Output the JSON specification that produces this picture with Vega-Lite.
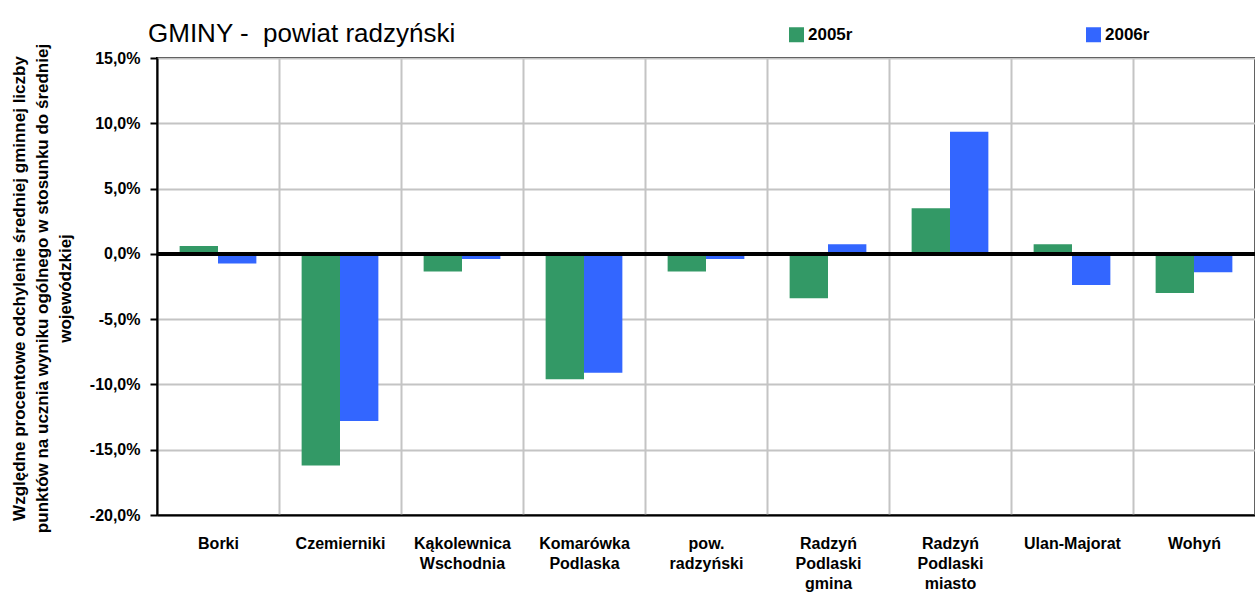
{
  "$schema": "https://vega.github.io/schema/vega-lite/v6.json",
  "width": 1098,
  "height": 457,
  "autosize": {"type": "none"},
  "padding": {"left": 157, "top": 58, "right": 0, "bottom": 84},
  "background": "white",
  "config": {
    "font": "Liberation Sans",
    "view": {"stroke": "black", "strokeWidth": 2}
  },
  "title": {
    "text": "GMINY -\u00a0 powiat radzyński",
    "anchor": "start",
    "frame": "group",
    "dx": -9,
    "dy": 58,
    "offset": 16,
    "baseline": "alphabetic",
    "fontSize": 26,
    "fontWeight": "normal",
    "font": "Liberation Sans",
    "color": "black"
  },
  "data": {
    "values": [
      {"gmina": "Borki", "rok": "2005r", "value": 0.006},
      {"gmina": "Borki", "rok": "2006r", "value": -0.0074},
      {"gmina": "Czemierniki", "rok": "2005r", "value": -0.162},
      {"gmina": "Czemierniki", "rok": "2006r", "value": -0.128},
      {"gmina": "Kąkolewnica|Wschodnia", "rok": "2005r", "value": -0.0135},
      {"gmina": "Kąkolewnica|Wschodnia", "rok": "2006r", "value": -0.004},
      {"gmina": "Komarówka|Podlaska", "rok": "2005r", "value": -0.096},
      {"gmina": "Komarówka|Podlaska", "rok": "2006r", "value": -0.091},
      {"gmina": "pow.|radzyński", "rok": "2005r", "value": -0.0135},
      {"gmina": "pow.|radzyński", "rok": "2006r", "value": -0.004},
      {"gmina": "Radzyń|Podlaski|gmina", "rok": "2005r", "value": -0.034},
      {"gmina": "Radzyń|Podlaski|gmina", "rok": "2006r", "value": 0.0074},
      {"gmina": "Radzyń|Podlaski|miasto", "rok": "2005r", "value": 0.035},
      {"gmina": "Radzyń|Podlaski|miasto", "rok": "2006r", "value": 0.0935},
      {"gmina": "Ulan-Majorat", "rok": "2005r", "value": 0.0074},
      {"gmina": "Ulan-Majorat", "rok": "2006r", "value": -0.0238},
      {"gmina": "Wohyń", "rok": "2005r", "value": -0.03},
      {"gmina": "Wohyń", "rok": "2006r", "value": -0.014}
    ]
  },
  "layer": [
    {
      "mark": {"type": "bar"},
      "encoding": {
        "x": {
          "field": "gmina",
          "type": "nominal",
          "sort": null,
          "scale": {"paddingInner": 0, "paddingOuter": 0},
          "axis": {
            "title": null,
            "grid": true,
            "tickBand": "extent",
            "gridColor": "#c4c4c4",
            "gridWidth": 2,
            "ticks": false,
            "domainColor": "black",
            "domainWidth": 2,
            "labelAngle": 0,
            "labelFontSize": 16,
            "labelFontWeight": "bold",
            "labelColor": "black",
            "labelPadding": 20,
            "labelBaseline": "top",
            "labelLineHeight": 20,
            "labelExpr": "split(datum.label, '|')"
          }
        },
        "xOffset": {
          "field": "rok",
          "type": "nominal",
          "scale": {"paddingInner": 0, "paddingOuter": 0.59}
        },
        "y": {
          "field": "value",
          "type": "quantitative",
          "scale": {"domain": [-0.2, 0.15], "nice": false, "zero": false},
          "axis": {
            "values": [-0.2, -0.15, -0.1, -0.05, 0, 0.05, 0.1, 0.15],
            "labelExpr": "replace(replace(format(datum.value, '.1%'), '.', ','), '\u2212', '-')",
            "grid": true,
            "gridColor": "#c4c4c4",
            "gridWidth": 2,
            "domainColor": "black",
            "domainWidth": 2,
            "tickColor": "black",
            "tickWidth": 2,
            "tickSize": 7,
            "labelPadding": 10,
            "labelFontSize": 16,
            "labelFontWeight": "bold",
            "labelColor": "black",
            "title": [
              "Względne procentowe odchylenie średniej gminnej liczby",
              "punktów na ucznia wyniku ogólnego w stosunku do średniej",
              "wojewódzkiej"
            ],
            "titleFontSize": 17,
            "titleFontWeight": "bold",
            "titleColor": "black",
            "titleAngle": -90,
            "titleAlign": "center",
            "titleBaseline": "top",
            "titleLineHeight": 23,
            "titleX": -146,
            "titleY": 230
          }
        },
        "color": {
          "field": "rok",
          "type": "nominal",
          "scale": {"domain": ["2005r", "2006r"], "range": ["#339966", "#3366ff"]},
          "legend": {
            "title": null,
            "orient": "none",
            "legendX": 631,
            "legendY": -32,
            "direction": "horizontal",
            "columns": 2,
            "columnPadding": 232,
            "symbolType": "square",
            "symbolSize": 225,
            "symbolStrokeWidth": 0,
            "labelFontSize": 17,
            "labelFontWeight": "bold",
            "labelColor": "black",
            "labelOffset": 3
          }
        }
      }
    },
    {
      "mark": {"type": "rule", "color": "black", "strokeWidth": 3},
      "encoding": {"y": {"datum": 0}}
    }
  ]
}
